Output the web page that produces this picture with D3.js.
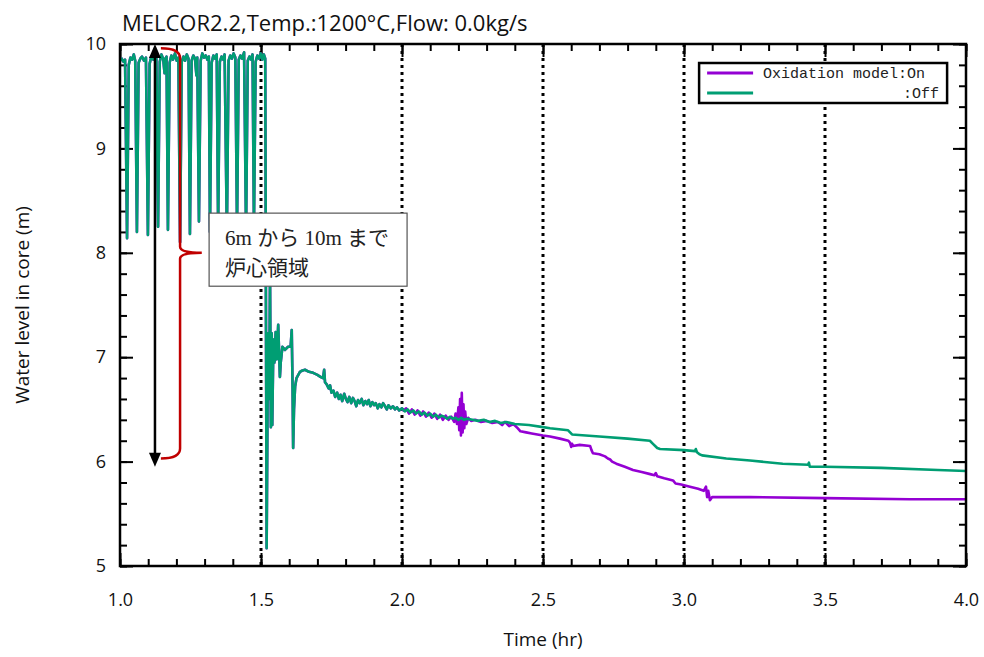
<!DOCTYPE html>
<html>
<head>
<meta charset="utf-8">
<script src="https://cdn.jsdelivr.net/npm/d3@7"></script>
<style>
  body { margin: 0; background: #fff; }
  svg { display: block; }
</style>
</head>
<body>
<div id="chart-area"></div>
<script>

// both runs overlap exactly up to ~2.0 hr: [time (hr), water level (m)]
const earlyLevel = [
  [1.000, 9.84], [1.006, 9.86], [1.012, 9.83], [1.018, 9.85], [1.025, 8.14], [1.031, 9.80],
  [1.037, 9.87], [1.043, 9.85], [1.049, 9.90], [1.054, 9.84], [1.060, 8.20], [1.066, 9.82],
  [1.072, 9.86], [1.078, 9.88], [1.085, 9.84], [1.092, 9.87], [1.099, 8.17], [1.105, 9.81],
  [1.111, 9.88], [1.118, 9.85], [1.124, 9.89], [1.129, 9.86], [1.135, 8.25], [1.141, 9.83],
  [1.147, 9.90], [1.153, 9.86], [1.158, 9.72], [1.161, 9.86], [1.165, 9.88], [1.170, 8.22],
  [1.176, 9.82], [1.182, 9.89], [1.188, 9.85], [1.195, 9.91], [1.201, 9.84], [1.207, 9.87],
  [1.213, 8.10], [1.219, 9.83], [1.225, 9.88], [1.231, 9.84], [1.237, 9.90], [1.243, 9.86],
  [1.248, 8.18], [1.254, 9.84], [1.260, 9.89], [1.266, 9.86], [1.271, 9.70], [1.274, 9.87],
  [1.280, 8.30], [1.286, 9.84], [1.292, 9.91], [1.298, 9.87], [1.304, 9.89], [1.310, 9.85],
  [1.315, 9.88], [1.319, 8.20], [1.325, 9.82], [1.331, 9.89], [1.337, 9.86], [1.343, 9.90],
  [1.348, 8.24], [1.354, 9.83], [1.360, 9.88], [1.366, 9.85], [1.371, 9.90], [1.379, 8.17],
  [1.385, 9.84], [1.391, 9.89], [1.397, 9.86], [1.403, 9.91], [1.409, 9.87], [1.415, 8.22],
  [1.421, 9.85], [1.427, 9.89], [1.433, 9.86], [1.440, 9.92], [1.447, 8.19], [1.453, 9.84],
  [1.459, 9.88], [1.465, 9.85], [1.470, 9.90], [1.475, 8.25], [1.481, 9.83], [1.487, 9.89],
  [1.493, 9.86], [1.499, 9.91], [1.505, 9.85], [1.510, 9.90], [1.515, 9.86],
  [1.520, 5.17], [1.524, 6.90], [1.526, 7.23], [1.529, 6.60], [1.532, 7.80], [1.535, 6.33],
  [1.538, 7.23], [1.540, 6.35], [1.544, 7.17], [1.548, 6.95], [1.552, 7.24], [1.556, 6.98],
  [1.561, 7.31], [1.567, 6.81], [1.570, 6.95], [1.576, 7.10], [1.585, 7.07], [1.596, 7.10],
  [1.605, 7.10], [1.609, 7.26], [1.612, 6.70], [1.614, 6.13], [1.617, 6.50], [1.621, 6.72],
  [1.626, 6.80], [1.638, 6.86], [1.645, 6.87], [1.656, 6.88], [1.670, 6.86], [1.685, 6.85],
  [1.700, 6.83], [1.712, 6.81], [1.720, 6.80], [1.724, 6.88], [1.727, 6.76], [1.733, 6.74],
  [1.740, 6.70], [1.745, 6.73], [1.750, 6.66], [1.757, 6.68], [1.763, 6.62], [1.770, 6.66],
  [1.776, 6.60], [1.782, 6.64], [1.788, 6.58], [1.795, 6.65], [1.801, 6.60], [1.807, 6.57],
  [1.813, 6.62], [1.820, 6.56], [1.826, 6.61], [1.832, 6.58], [1.838, 6.53], [1.844, 6.59],
  [1.850, 6.56], [1.857, 6.60], [1.863, 6.54], [1.870, 6.58], [1.876, 6.55], [1.882, 6.59],
  [1.888, 6.53], [1.895, 6.57], [1.901, 6.54], [1.907, 6.56], [1.914, 6.51], [1.920, 6.55],
  [1.927, 6.52], [1.933, 6.56], [1.940, 6.53], [1.946, 6.50], [1.952, 6.54], [1.960, 6.51],
  [1.968, 6.53], [1.975, 6.50], [1.982, 6.52], [1.990, 6.49], [2.000, 6.51]
];

// oxidation model off, after 2.0 hr
const offLate = [
  [2.010, 6.48], [2.020, 6.50], [2.030, 6.47], [2.040, 6.49], [2.050, 6.46], [2.060, 6.48],
  [2.070, 6.45], [2.080, 6.47], [2.090, 6.44], [2.100, 6.46], [2.110, 6.43], [2.120, 6.45],
  [2.130, 6.42], [2.140, 6.44], [2.150, 6.43], [2.160, 6.41], [2.170, 6.43], [2.180, 6.41],
  [2.190, 6.42], [2.200, 6.40], [2.210, 6.42], [2.220, 6.40], [2.230, 6.41], [2.250, 6.40],
  [2.270, 6.39], [2.290, 6.40], [2.310, 6.38], [2.330, 6.39], [2.350, 6.37], [2.370, 6.38],
  [2.400, 6.36], [2.450, 6.35], [2.500, 6.33], [2.525, 6.32], [2.589, 6.30], [2.596, 6.28],
  [2.603, 6.26], [2.700, 6.24], [2.800, 6.22], [2.879, 6.20], [2.890, 6.17], [2.905, 6.13],
  [2.915, 6.12], [3.000, 6.11], [3.039, 6.10], [3.042, 6.12], [3.046, 6.09], [3.055, 6.07],
  [3.064, 6.06], [3.150, 6.03], [3.234, 6.01], [3.350, 5.98], [3.440, 5.97], [3.443, 5.99],
  [3.446, 5.95], [3.500, 5.95], [3.700, 5.94], [3.900, 5.92], [4.000, 5.91]
];

// oxidation model on, after 2.0 hr
const onLate = [
  [2.005, 6.49], [2.015, 6.51], [2.025, 6.46], [2.035, 6.50], [2.045, 6.45], [2.055, 6.49],
  [2.065, 6.44], [2.075, 6.48], [2.085, 6.43], [2.095, 6.47], [2.105, 6.42], [2.115, 6.46],
  [2.125, 6.41], [2.135, 6.45], [2.145, 6.40], [2.155, 6.44], [2.165, 6.40], [2.175, 6.43],
  [2.185, 6.38], [2.190, 6.46], [2.195, 6.36], [2.200, 6.52], [2.203, 6.30], [2.206, 6.60],
  [2.209, 6.25], [2.212, 6.66], [2.215, 6.28], [2.218, 6.55], [2.221, 6.32], [2.224, 6.48],
  [2.228, 6.36], [2.235, 6.42], [2.245, 6.39], [2.260, 6.40], [2.280, 6.38], [2.300, 6.39],
  [2.320, 6.37], [2.340, 6.38], [2.355, 6.35], [2.365, 6.38], [2.380, 6.34], [2.395, 6.36],
  [2.410, 6.32], [2.420, 6.29], [2.440, 6.28], [2.460, 6.27], [2.480, 6.26], [2.500, 6.25],
  [2.525, 6.24], [2.560, 6.22], [2.590, 6.20], [2.596, 6.18], [2.600, 6.14], [2.603, 6.17],
  [2.606, 6.15], [2.630, 6.16], [2.667, 6.15], [2.672, 6.11], [2.677, 6.08], [2.700, 6.07],
  [2.720, 6.05], [2.730, 6.03], [2.738, 6.02], [2.745, 6.00], [2.760, 5.98], [2.790, 5.95],
  [2.819, 5.92], [2.850, 5.90], [2.880, 5.88], [2.895, 5.87], [2.900, 5.89], [2.905, 5.86],
  [2.930, 5.84], [2.961, 5.82], [2.970, 5.79], [2.990, 5.78], [3.021, 5.76], [3.050, 5.74],
  [3.070, 5.72], [3.078, 5.76], [3.082, 5.66], [3.086, 5.72], [3.092, 5.63], [3.100, 5.66],
  [3.117, 5.66], [3.234, 5.66], [3.500, 5.65], [3.800, 5.64], [4.000, 5.64]
];

const seriesNames = ['Oxidation model:On', ':Off'];
const xMajorTicks = [1.0, 1.5, 2.0, 2.5, 3.0, 3.5, 4.0];
const xGridTicks = [1.5, 2.0, 2.5, 3.0, 3.5];
const yMajorTicks = [5, 6, 7, 8, 9, 10];
const noteLines = ['6m から 10m まで', '炉心領域'];

const widthSvg = 984;
const heightSvg = 657;
const margin = { top: 44, right: 18, bottom: 91, left: 120 };
const widthChart = widthSvg - margin.left - margin.right;
const heightChart = heightSvg - margin.top - margin.bottom;
const colorOn = '#9400d3';
const colorOff = '#009e73';

const scaleX = d3.scaleLinear().domain([1, 4]).range([0, widthChart]);
const scaleY = d3.scaleLinear().domain([5, 10]).range([heightChart, 0]);

const svg = d3.select('#chart-area')
  .append('svg')
    .attr('width', widthSvg)
    .attr('height', heightSvg);

const chart = svg.append('g')
  .attr('transform', `translate(${margin.left}, ${margin.top})`);

chart.append('clipPath').attr('id', 'clip')
  .append('rect')
    .attr('width', widthChart)
    .attr('height', heightChart);

// dotted vertical grid
chart.selectAll('.grid')
  .data(xGridTicks)
  .enter().append('line')
    .attr('x1', d => scaleX(d))
    .attr('x2', d => scaleX(d))
    .attr('y1', 0)
    .attr('y2', heightChart)
    .attr('stroke', '#000')
    .attr('stroke-width', 3)
    .attr('stroke-dasharray', '3,4');

// ticks on all four sides, pointing in
const minorX = d3.range(10, 41).map(d => d / 10);
const minorY = d3.range(25, 51).map(d => d / 5);
const tickFont = '"Open Sans", sans-serif';

const styleAxis = g => {
  g.select('.domain').remove();
  g.selectAll('.tick line').attr('stroke', '#000').attr('stroke-width', 2);
  g.selectAll('.tick text').attr('font-family', tickFont).attr('font-size', 18).attr('fill', '#111');
};

chart.append('g')
  .attr('transform', `translate(0, ${heightChart})`)
  .call(d3.axisBottom(scaleX).tickValues(minorX).tickSize(-7).tickFormat(''))
  .call(styleAxis);
chart.append('g')
  .attr('transform', `translate(0, ${heightChart})`)
  .call(d3.axisBottom(scaleX).tickValues(xMajorTicks).tickSize(-13).tickPadding(27).tickFormat(d3.format('.1f')))
  .call(styleAxis);
chart.append('g')
  .call(d3.axisTop(scaleX).tickValues(minorX).tickSize(-7).tickFormat(''))
  .call(styleAxis);
chart.append('g')
  .call(d3.axisTop(scaleX).tickValues(xMajorTicks).tickSize(-13).tickFormat(''))
  .call(styleAxis);
chart.append('g')
  .call(d3.axisLeft(scaleY).tickValues(minorY).tickSize(-7).tickFormat(''))
  .call(styleAxis);
chart.append('g')
  .call(d3.axisLeft(scaleY).tickValues(yMajorTicks).tickSize(-13).tickPadding(14).tickFormat(d3.format('d')))
  .call(styleAxis);
chart.append('g')
  .attr('transform', `translate(${widthChart}, 0)`)
  .call(d3.axisRight(scaleY).tickValues(minorY).tickSize(-7).tickFormat(''))
  .call(styleAxis);
chart.append('g')
  .attr('transform', `translate(${widthChart}, 0)`)
  .call(d3.axisRight(scaleY).tickValues(yMajorTicks).tickSize(-13).tickFormat(''))
  .call(styleAxis);

// series
const line = d3.line()
  .x(d => scaleX(d[0]))
  .y(d => scaleY(d[1]));

const lines = chart.append('g').attr('clip-path', 'url(#clip)');

lines.append('path')
  .datum(earlyLevel.concat(onLate))
  .attr('d', line)
  .attr('fill', 'none')
  .attr('stroke', colorOn)
  .attr('stroke-width', 2.6)
  .attr('stroke-linejoin', 'round');

lines.append('path')
  .datum(earlyLevel.concat(offLate))
  .attr('d', line)
  .attr('fill', 'none')
  .attr('stroke', colorOff)
  .attr('stroke-width', 2.6)
  .attr('stroke-linejoin', 'round');

// frame
chart.append('rect')
  .attr('width', widthChart)
  .attr('height', heightChart)
  .attr('fill', 'none')
  .attr('stroke', '#000')
  .attr('stroke-width', 2.5);

// annotation: arrow over the core region
const arrowX = scaleX(1.124);
const arrowTop = scaleY(10);
const arrowBottom = scaleY(5.95);
chart.append('line')
  .attr('x1', arrowX).attr('x2', arrowX)
  .attr('y1', arrowTop + 10).attr('y2', arrowBottom - 10)
  .attr('stroke', '#000')
  .attr('stroke-width', 2.5);
chart.append('path')
  .attr('d', `M${arrowX},${arrowTop} l-6,14 l12,0 z`)
  .attr('fill', '#000');
chart.append('path')
  .attr('d', `M${arrowX},${arrowBottom} l-6,-14 l12,0 z`)
  .attr('fill', '#000');

// red brace from 6 m to 10 m
const braceX = scaleX(1.213);
const braceLeft = scaleX(1.145);
const braceTip = scaleX(1.29);
const yTop = scaleY(9.96);
const yMid = scaleY(8);
const yBot = scaleY(6.03);
chart.append('path')
  .attr('d', `M${braceLeft},${yTop} Q${braceX},${yTop} ${braceX},${yTop + 10}
    L${braceX},${yMid - 6} Q${braceX},${yMid} ${braceTip},${yMid}
    Q${braceX},${yMid} ${braceX},${yMid + 6}
    L${braceX},${yBot - 10} Q${braceX},${yBot} ${braceLeft},${yBot}`)
  .attr('fill', 'none')
  .attr('stroke', '#c00000')
  .attr('stroke-width', 2.5);

// note box
const boxX0 = scaleX(1.316);
const boxX1 = scaleX(2.018);
const boxY0 = scaleY(8.38);
const boxY1 = scaleY(7.68);
chart.append('rect')
  .attr('x', boxX0)
  .attr('y', boxY0)
  .attr('width', boxX1 - boxX0)
  .attr('height', boxY1 - boxY0)
  .attr('fill', '#fff')
  .attr('stroke', '#555')
  .attr('stroke-width', 1.2);

noteLines.forEach((t, i) => {
  chart.append('text')
    .attr('x', boxX0 + 16)
    .attr('y', boxY0 + 32 + i * 30)
    .attr('font-family', '"Liberation Serif", "Noto Sans CJK JP", serif')
    .attr('font-size', 21)
    .attr('fill', '#222')
    .text(t);
});

// legend
const legend = chart.append('g')
  .attr('transform', `translate(${scaleX(3.05)}, 19)`);

legend.append('rect')
  .attr('x', 1)
  .attr('width', 248)
  .attr('height', 40)
  .attr('fill', '#fff')
  .attr('stroke', '#000')
  .attr('stroke-width', 2.5);

[colorOn, colorOff].forEach((c, i) => {
  legend.append('line')
    .attr('x1', 9).attr('x2', 55)
    .attr('y1', 10 + i * 20).attr('y2', 10 + i * 20)
    .attr('stroke', c)
    .attr('stroke-width', 3);
});

legend.append('text')
  .attr('x', 65).attr('y', 15)
  .attr('font-family', '"Liberation Mono", monospace')
  .attr('font-size', 15)
  .attr('fill', '#222')
  .text(seriesNames[0]);

legend.append('text')
  .attr('x', 205).attr('y', 35)
  .attr('font-family', '"Liberation Mono", monospace')
  .attr('font-size', 15)
  .attr('fill', '#222')
  .text(seriesNames[1]);

// titles
svg.append('text')
  .attr('x', 122)
  .attr('y', 31)
  .attr('font-family', '"Open Sans", sans-serif')
  .attr('font-size', 22)
  .attr('fill', '#111')
  .text('MELCOR2.2,Temp.:1200°C,Flow: 0.0kg/s');

svg.append('text')
  .attr('text-anchor', 'middle')
  .attr('transform', `translate(29, ${margin.top + heightChart / 2}) rotate(-90)`)
  .attr('font-family', '"Open Sans", sans-serif')
  .attr('font-size', 19)
  .attr('fill', '#111')
  .text('Water level in core (m)');

svg.append('text')
  .attr('text-anchor', 'middle')
  .attr('x', margin.left + widthChart / 2)
  .attr('y', 646)
  .attr('font-family', '"Open Sans", sans-serif')
  .attr('font-size', 19)
  .attr('fill', '#111')
  .text('Time (hr)');

</script>
</body>
</html>
